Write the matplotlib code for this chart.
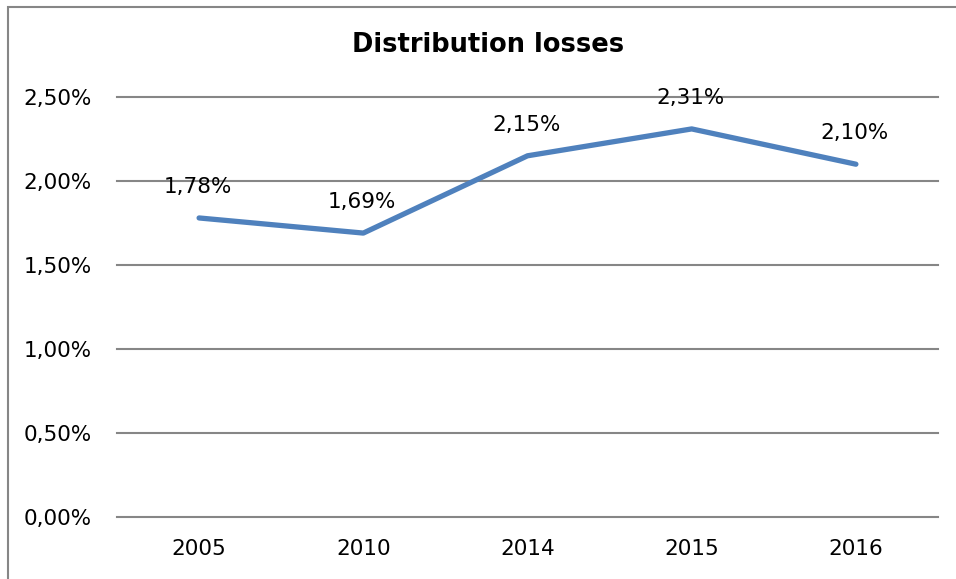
import matplotlib
matplotlib.use("Agg")
import matplotlib.pyplot as plt
from matplotlib.patches import Rectangle
from matplotlib.ticker import FuncFormatter

years = ["2005", "2010", "2014", "2015", "2016"]
losses = [0.0178, 0.0169, 0.0215, 0.0231, 0.0210]
yticks = [0.0, 0.005, 0.010, 0.015, 0.020, 0.025]

def pct(v, pos=None):
    return f"{v*100:.2f}%".replace(".", ",")

W, H = 956, 579
fig = plt.figure(figsize=(W/100, H/100), dpi=100)
fig.patch.set_facecolor("white")

# outer chart border (left and top visible)
fig.patches.append(Rectangle((8/W, -0.1), 1.2, 1 - 7/H + 0.1, transform=fig.transFigure,
                             fill=False, edgecolor="#868686", linewidth=1.5))

left, right = 117/W, 938/W
bottom, top = 1 - 517/H, 1 - 97/H
ax = fig.add_axes([left, bottom, right - left, top - bottom])

x = list(range(len(years)))
ax.plot(x, losses, color="#4F81BD", linewidth=3.8, solid_capstyle="round", solid_joinstyle="round", zorder=3)

for xi, v in zip(x, losses):
    ax.annotate(pct(v), (xi, v), xytext=(-1, 22.5), textcoords="offset points",
                ha="center", va="center", fontsize=15.5, color="black")

ax.set_xlim(-0.5, len(years) - 0.5)
ax.set_ylim(0, 0.025)
ax.set_yticks(yticks)
ax.yaxis.set_major_formatter(FuncFormatter(pct))
ax.set_xticks(x)
ax.set_xticklabels(years)
ax.grid(axis="y", color="#868686", linewidth=1.5)
for gl in ax.get_ygridlines():
    gl.set_clip_on(False)
ax.set_axisbelow(True)
for s in ax.spines.values():
    s.set_visible(False)
ax.tick_params(axis="both", length=0, labelsize=15.5, colors="black")
ax.tick_params(axis="y", pad=18)
ax.tick_params(axis="x", pad=16)

fig.text(488/W, 1 - 45/H, "Distribution losses", ha="center", va="center",
         fontsize=18.5, fontweight="bold")

fig.savefig("out.png", dpi=100)
